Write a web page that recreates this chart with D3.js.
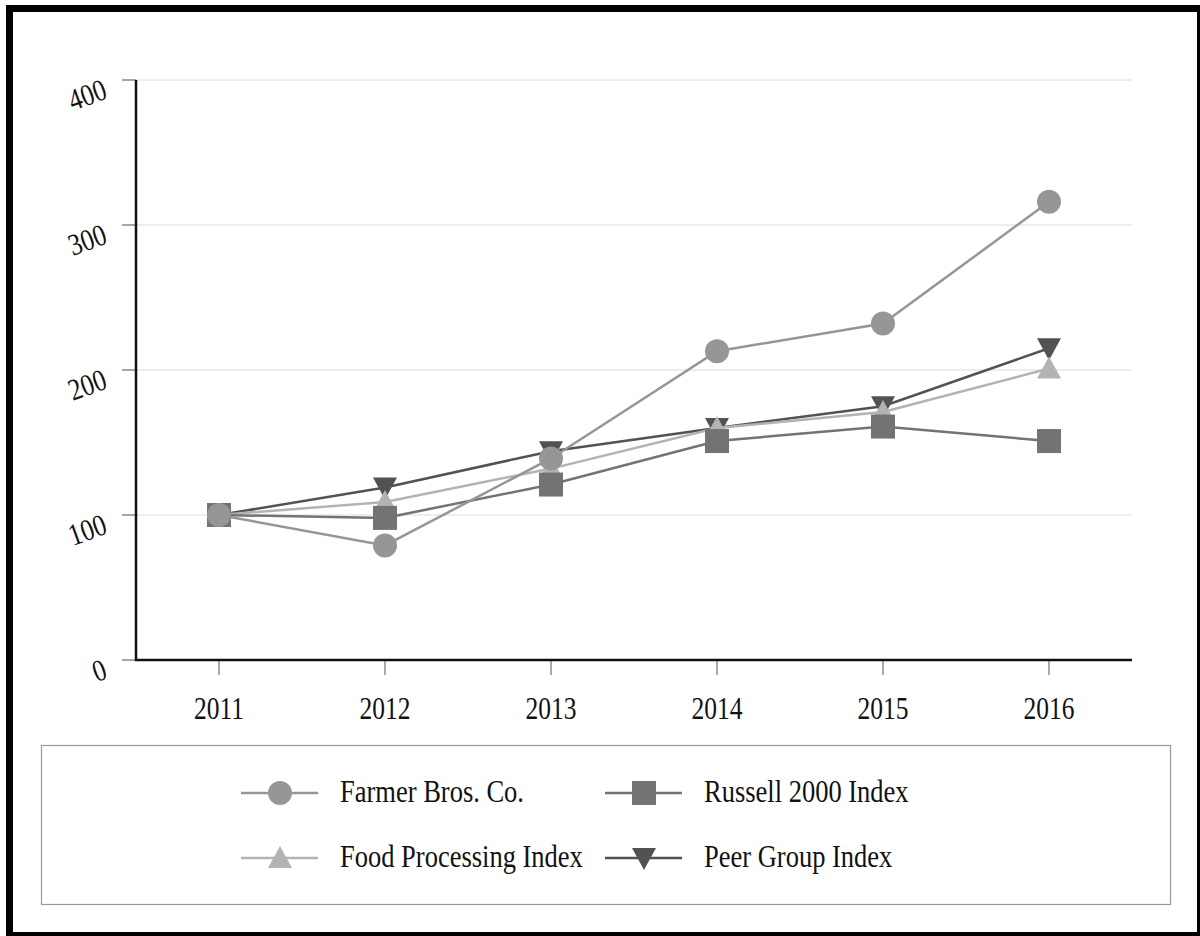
<!DOCTYPE html>
<html><head><meta charset="utf-8">
<script src="https://cdn.jsdelivr.net/npm/d3@7"></script>
<style>body{margin:0;background:#fff}svg{display:block}text{font-family:"Liberation Serif","Times New Roman",serif}</style>
</head><body>
<svg id="c" width="1200" height="936"></svg>
<script>
const years = ["2011","2012","2013","2014","2015","2016"];
const farmer = [100, 79, 139, 213, 232, 316];
const russell = [100, 98, 121, 151, 161, 151];
const food = [100, 109, 132, 160, 171, 201];
const peer = [100, 119, 144, 160, 175, 215];
const yTicks = [0, 100, 200, 300, 400];
const seriesNames = ["Farmer Bros. Co.", "Russell 2000 Index", "Food Processing Index", "Peer Group Index"];

const series = [
  {name: seriesNames[0], values: farmer, color: "#969696", sym: "circle"},
  {name: seriesNames[1], values: russell, color: "#737373", sym: "square"},
  {name: seriesNames[2], values: food, color: "#b3b3b3", sym: "up"},
  {name: seriesNames[3], values: peer, color: "#525252", sym: "down"}
];

const FS = 25.5, SY = 1.2, LFS = 26.5;
const svg = d3.select("#c");
svg.append("rect").attr("x",9.5).attr("y",8.5).attr("width",1191).attr("height",927)
  .attr("fill","none").attr("stroke","#000").attr("stroke-width",7);

const L = 136, R = 1132, T = 80, B = 660;
const x = d3.scalePoint().domain(years).range([L, R]).padding(0.5);
const y = d3.scaleLinear().domain([0, 400]).range([B, T]);

svg.append("g").selectAll("line").data(yTicks.filter(d=>d>0)).join("line")
  .attr("x1", L).attr("x2", R).attr("y1", d=>y(d)).attr("y2", d=>y(d))
  .attr("stroke", "#dcdcdc").attr("stroke-width", 1);

svg.append("g").selectAll("line").data(yTicks).join("line")
  .attr("x1", L-14).attr("x2", L).attr("y1", d=>y(d)).attr("y2", d=>y(d))
  .attr("stroke", "#888").attr("stroke-width", 1.5);
svg.append("g").selectAll("text").data(yTicks).join("text")
  .attr("transform", d=>`translate(116,${y(d)}) rotate(-20) scale(1,${SY})`)
  .attr("x", -13).attr("y", 12).attr("text-anchor","end")
  .attr("font-size", FS).attr("fill","#111").text(d=>d);

svg.append("g").selectAll("line").data(years).join("line")
  .attr("x1", d=>x(d)).attr("x2", d=>x(d)).attr("y1", B).attr("y2", B+15)
  .attr("stroke", "#555").attr("stroke-width", 1);
svg.append("g").selectAll("text").data(years).join("text")
  .attr("transform", d=>`translate(${x(d)},719) scale(1,${SY})`)
  .attr("text-anchor","middle")
  .attr("font-size", FS).attr("fill","#111").text(d=>d);

svg.append("line").attr("x1",L).attr("x2",L).attr("y1",T).attr("y2",B+1)
  .attr("stroke","#111").attr("stroke-width",2.5);
svg.append("line").attr("x1",L-1).attr("x2",R).attr("y1",B).attr("y2",B)
  .attr("stroke","#111").attr("stroke-width",2.5);

function marker(g, sym, color, cx, cy) {
  if (sym === "circle") g.append("circle").attr("cx",cx).attr("cy",cy).attr("r",12).attr("fill",color);
  else if (sym === "square") g.append("rect").attr("x",cx-12).attr("y",cy-12).attr("width",24).attr("height",24).attr("fill",color);
  else if (sym === "up") g.append("path").attr("d",`M${cx},${cy-12}L${cx+12},${cy+10}L${cx-12},${cy+10}Z`).attr("fill",color);
  else g.append("path").attr("d",`M${cx},${cy+12}L${cx+12},${cy-10}L${cx-12},${cy-10}Z`).attr("fill",color);
}

const line = d3.line().x((d,i)=>x(years[i])).y(d=>y(d));
const order = [3, 2, 1, 0];
order.forEach(k => {
  const s = series[k];
  const g = svg.append("g");
  g.append("path").attr("d", line(s.values)).attr("fill","none")
    .attr("stroke", s.color).attr("stroke-width", 2.5);
  s.values.forEach((v,i)=>marker(g, s.sym, s.color, x(years[i]), y(v)));
});

svg.append("rect").attr("x",41.5).attr("y",745.5).attr("width",1129).attr("height",159)
  .attr("fill","none").attr("stroke","#999").attr("stroke-width",1.2);
const legPos = [[241,793],[605,793],[241,858],[605,858]];
series.forEach((s,k)=>{
  const [lx, ly] = legPos[k];
  const g = svg.append("g");
  g.append("line").attr("x1",lx).attr("x2",lx+77).attr("y1",ly).attr("y2",ly)
    .attr("stroke",s.color).attr("stroke-width",2.5);
  marker(g, s.sym, s.color, lx+39, ly);
  g.append("text").attr("transform", `translate(${lx+99},${ly+9}) scale(1,${SY})`)
    .attr("font-size",LFS).attr("fill","#111").text(s.name);
});
</script>
</body></html>
